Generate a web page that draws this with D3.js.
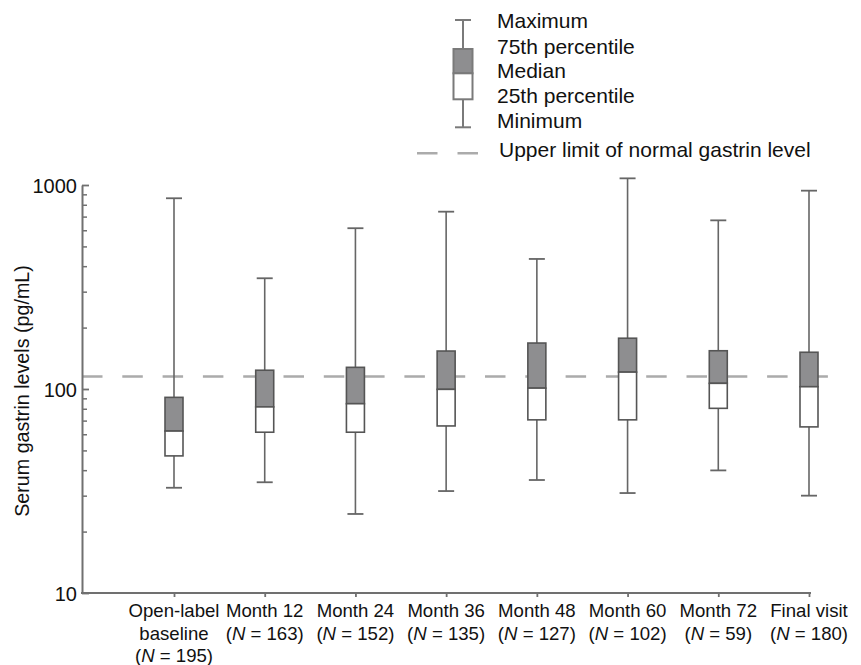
<!DOCTYPE html>
<html>
<head>
<meta charset="utf-8">
<script src="https://cdn.jsdelivr.net/npm/d3@7/dist/d3.min.js"></script>
<style>
  html, body { margin: 0; padding: 0; background: #fff; }
  svg { display: block; font-family: "Liberation Sans", Arial, Helvetica, sans-serif; }
</style>
</head>
<body>
<svg id="chart" width="861" height="665"></svg>
<script>
// ---- Data ----
const categories = ["Open-label baseline", "Month 12", "Month 24", "Month 36", "Month 48", "Month 60", "Month 72", "Final visit"];
const labelLines = [["Open-label", "baseline"], ["Month 12"], ["Month 24"], ["Month 36"], ["Month 48"], ["Month 60"], ["Month 72"], ["Final visit"]];
const nValues = [195, 163, 152, 135, 127, 102, 59, 180];
const minValues    = [32.8, 34.9, 24.4, 31.6, 35.8, 30.9, 39.9, 30.0];
const q1Values     = [47.0, 61.4, 61.4, 65.9, 70.6, 70.6, 80.4, 65.2];
const medianValues = [62.2, 81.7, 84.7, 99.6, 101, 121, 106.6, 102.6];
const q3Values     = [91.0, 123.6, 127.7, 153.5, 168, 177.4, 154, 151.4];
const maxValues    = [861, 349, 614, 740, 434, 1078, 671, 938];
const upperLimitNormal = 115;
const majorTicks = [10, 100, 1000];
const minorTicks = [20, 30, 40, 50, 60, 70, 80, 90, 200, 300, 400, 500, 600, 700, 800, 900];
const legendLabels = ["Maximum", "75th percentile", "Median", "25th percentile", "Minimum"];
const legendLineLabel = "Upper limit of normal gastrin level";
const yAxisTitle = "Serum gastrin levels (pg/mL)";

// ---- Layout ----
const svg = d3.select("#chart");
const axisX0 = 82, axisX1 = 810, axisY = 593, axisTop = 185;

const x = d3.scalePoint().domain(categories).range([174, 809]);
const y = d3.scaleLog().domain([10, 1000]).range([axisY, axisTop]);

const axisColor = "#707070";
const boxStroke = "#555";
const boxFill = "#8e8e90";
const whiskerColor = "#666";

// ---- Upper limit dashed line ----
svg.append("line")
  .attr("x1", axisX0).attr("x2", 830)
  .attr("y1", y(upperLimitNormal)).attr("y2", y(upperLimitNormal))
  .attr("stroke", "#ababab").attr("stroke-width", 2.5)
  .attr("stroke-dasharray", "20.5,19.8");

// ---- Y axis ----
const gMinor = svg.append("g").attr("transform", `translate(${axisX0},0)`)
  .call(d3.axisLeft(y).tickValues(minorTicks).tickSizeInner(-5).tickSizeOuter(0).tickFormat(""));
gMinor.select(".domain").remove();
gMinor.selectAll(".tick line").attr("stroke", axisColor).attr("stroke-width", 1.5);

const gMajor = svg.append("g").attr("transform", `translate(${axisX0},0)`)
  .call(d3.axisLeft(y).tickValues(majorTicks).tickSizeInner(-7).tickSizeOuter(0).tickPadding(5).tickFormat(d3.format("d")));
gMajor.select(".domain").attr("stroke", axisColor).attr("stroke-width", 2);
gMajor.selectAll(".tick line").attr("stroke", axisColor).attr("stroke-width", 1.8);
gMajor.selectAll(".tick text")
  .attr("font-size", 20).attr("fill", "#111")
  .attr("font-family", "'Liberation Sans', Arial, sans-serif")
  .attr("dy", "0.35em");

// y axis title
svg.append("text")
  .attr("transform", `translate(29, 391) rotate(-90)`)
  .attr("text-anchor", "middle")
  .attr("font-size", 19.7).attr("fill", "#111")
  .text(yAxisTitle);

// ---- X axis ----
const gx = svg.append("g").attr("transform", `translate(0,${axisY})`)
  .call(d3.axisBottom(x).tickSizeInner(4).tickSizeOuter(0).tickFormat(""));
gx.select(".domain").remove();
gx.selectAll(".tick line").attr("stroke", axisColor).attr("stroke-width", 1.8);
svg.append("line")
  .attr("x1", axisX0 - 1).attr("x2", axisX1 + 1)
  .attr("y1", axisY).attr("y2", axisY)
  .attr("stroke", axisColor).attr("stroke-width", 2.2);

// x labels
const xl = svg.append("g").attr("font-size", 18.6).attr("fill", "#111").attr("text-anchor", "middle");
categories.forEach((c, i) => {
  const lines = labelLines[i];
  const t = xl.append("text").attr("x", x(c)).attr("y", 617);
  lines.forEach((ln, j) => {
    t.append("tspan").attr("x", x(c)).attr("dy", j === 0 ? 0 : 22.7).text(ln);
  });
  const tn = t.append("tspan").attr("x", x(c)).attr("dy", lines.length === 0 ? 0 : 22.7).text("(");
  t.append("tspan").attr("font-style", "italic").text("N");
  t.append("tspan").text(" = " + nValues[i] + ")");
});

// ---- Boxes ----
const boxW = 18, capW = 16;
const gb = svg.append("g");
categories.forEach((c, i) => {
  const cx = x(c);
  const g = gb.append("g");
  g.append("line").attr("x1", cx).attr("x2", cx)
    .attr("y1", y(maxValues[i])).attr("y2", y(minValues[i]))
    .attr("stroke", whiskerColor).attr("stroke-width", 1.6);
  [maxValues[i], minValues[i]].forEach(v => {
    g.append("line").attr("x1", cx - capW / 2).attr("x2", cx + capW / 2)
      .attr("y1", y(v)).attr("y2", y(v))
      .attr("stroke", whiskerColor).attr("stroke-width", 1.8);
  });
  g.append("rect").attr("x", cx - boxW / 2).attr("width", boxW)
    .attr("y", y(q3Values[i])).attr("height", y(medianValues[i]) - y(q3Values[i]))
    .attr("fill", boxFill).attr("stroke", boxStroke).attr("stroke-width", 1.6);
  g.append("rect").attr("x", cx - boxW / 2).attr("width", boxW)
    .attr("y", y(medianValues[i])).attr("height", y(q1Values[i]) - y(medianValues[i]))
    .attr("fill", "#fff").attr("stroke", boxStroke).attr("stroke-width", 1.6);
});

// ---- Legend ----
const lg = svg.append("g");
const lx = 463;
const legStroke = "#7a7a7a";
const legY = { max: 20, q3: 49, med: 73.3, q1: 99.3, min: 127.3 };
lg.append("line").attr("x1", lx).attr("x2", lx).attr("y1", legY.max).attr("y2", legY.min)
  .attr("stroke", legStroke).attr("stroke-width", 2);
[legY.max, legY.min].forEach(v => {
  lg.append("line").attr("x1", lx - 8).attr("x2", lx + 8).attr("y1", v).attr("y2", v)
    .attr("stroke", legStroke).attr("stroke-width", 2);
});
lg.append("rect").attr("x", lx - 9.5).attr("width", 19).attr("y", legY.q3).attr("height", legY.med - legY.q3)
  .attr("fill", boxFill).attr("stroke", legStroke).attr("stroke-width", 2);
lg.append("rect").attr("x", lx - 9.5).attr("width", 19).attr("y", legY.med).attr("height", legY.q1 - legY.med)
  .attr("fill", "#fff").attr("stroke", legStroke).attr("stroke-width", 2);

const legBaselines = [28, 53.5, 78, 102.7, 128];
legendLabels.forEach((t, i) => {
  lg.append("text").attr("x", 497).attr("y", legBaselines[i])
    .attr("font-size", 21).attr("fill", "#111").text(t);
});
lg.append("line").attr("x1", 417).attr("x2", 478).attr("y1", 153.3).attr("y2", 153.3)
  .attr("stroke", "#ababab").attr("stroke-width", 2.5).attr("stroke-dasharray", "20.5,20");
lg.append("text").attr("x", 499).attr("y", 156.7)
  .attr("font-size", 21).attr("fill", "#111").text(legendLineLabel);
</script>
</body>
</html>
